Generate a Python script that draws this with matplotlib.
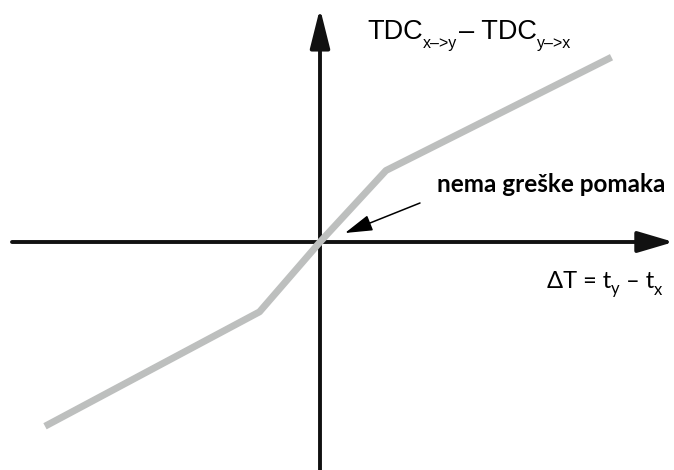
import numpy as np
import matplotlib
matplotlib.use("Agg")
import matplotlib.pyplot as plt

# knee-shaped transfer curve (arbitrary units, origin = no offset error)
dT = [-5.0, -1.1, 0.0, 1.2, 5.3]
tdc_diff = [-3.35, -1.27, 0.0, 1.3, 3.36]

W, H = 674, 470
fig = plt.figure(figsize=(W / 100, H / 100), dpi=100)
ax = fig.add_axes([0, 0, 1, 1])
ax.set_xlim(-320 / 55, 354 / 55)
ax.set_ylim(-228 / 55, 242 / 55)
ax.axis("off")

def px(x, y):
    # pixel position -> figure fraction
    return x / W, 1 - y / H

def after(prev, y, s, gap=0, **kw):
    # put text right after previous text piece, on pixel baseline y
    return ax.annotate(s, xy=(1, 1 - y / H), xycoords=(prev, "figure fraction"),
                       xytext=(gap, 0), textcoords="offset points",
                       va="baseline", ha="left", **kw)

#axes with arrows
ax.annotate("", xy=(6.43, 0), xytext=(-5.6, 0),
            arrowprops=dict(arrowstyle="-|>,head_length=22,head_width=6.5",
                            mutation_scale=1, lw=2.8, color="#111111",
                            shrinkA=0, shrinkB=0))
ax.annotate("", xy=(0, 4.25), xytext=(0, -4.2),
            arrowprops=dict(arrowstyle="-|>,head_length=24,head_width=6",
                            mutation_scale=1, lw=2.8, color="#111111",
                            shrinkA=0, shrinkB=0))

#the curve
ax.plot(dT, tdc_diff, color="#bdbfbe", lw=5, solid_capstyle="butt", zorder=3)

#pointer to origin
ax.annotate("", xy=px(345, 233), xytext=px(420, 203),
            xycoords="figure fraction", textcoords="figure fraction",
            arrowprops=dict(arrowstyle="-|>,head_length=17,head_width=5",
                            mutation_scale=1, lw=1.1, color="black",
                            shrinkA=0, shrinkB=0))

#labels
fig.canvas.draw()
t = fig.text(*px(367, 39), "TDC", family="Liberation Sans", fontsize=19.5,
             va="baseline", ha="left")
t = after(t, 48, "x\u2013>y", family="Liberation Sans", fontsize=11.5)
t = after(t, 39, "\u2013 TDC", gap=1.5, family="Liberation Sans", fontsize=19.5)
t = after(t, 48, "y\u2013>x", family="Liberation Sans", fontsize=11.5)

fig.text(*px(437, 192), "nema greške pomaka", family="Lato", fontweight="bold",
         fontsize=17.5, va="baseline", ha="left")

t = fig.text(*px(547, 288), "\u0394T = t", family="Lato", fontsize=17,
             va="baseline", ha="left")
t = after(t, 294, "y", family="Lato", fontsize=12)
t = after(t, 288, " \u2013 t", family="Lato", fontsize=17)
t = after(t, 295, "x", family="Lato", fontsize=12)

fig.savefig("out.png", dpi=100)
